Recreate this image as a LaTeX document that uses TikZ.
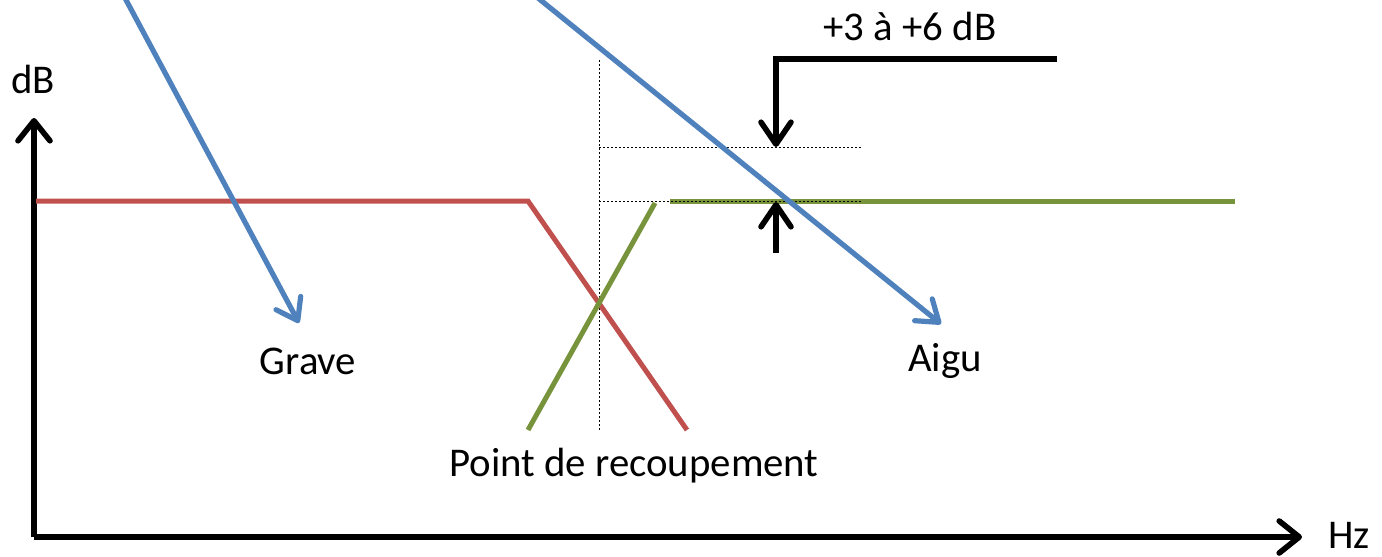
\documentclass[tikz,border=0pt]{standalone}
\usepackage{fontspec}
\setmainfont{Carlito}
\usetikzlibrary{arrows.meta}
\definecolor{grave}{HTML}{C0504D}
\definecolor{aigu}{HTML}{77933C}
\definecolor{fleche}{HTML}{4F81BD}
\begin{document}
\begin{tikzpicture}[x=0.5pt,y=-0.5pt,
    axe/.style={line width=2.8pt,-{Straight Barb[length=10pt,width=16pt,round]}},
    courbe/.style={line width=2.5pt},
    guide/.style={line width=0.4pt,dash pattern=on 1pt off 1pt},
    renvoi/.style={line width=2.6pt,fleche,-{Straight Barb[length=10pt,width=14pt,round]}},
    marque/.style={line width=2.8pt,-{Straight Barb[length=11pt,width=15pt,round]}},
    txt/.style={font=\fontsize{20.4}{24}\selectfont,inner sep=0pt}]
  \useasboundingbox (0,0) rectangle (1382,557);
  % axes
  \coordinate (o) at (34,537);
  \coordinate (ytop) at (34,118);
  \coordinate (xend) at (1302,537);
  \draw[axe] (o) -- (ytop);
  \draw[axe] (o) -- (xend);
  \node[txt] (db) at (33,79) {dB};
  \node[txt] (hz) at (1349,535) {Hz};
  % guides
  \coordinate (v1) at (599,60);
  \coordinate (v2) at (599,430);
  \coordinate (h1) at (599,147);
  \coordinate (h1e) at (863,147);
  \coordinate (h2) at (599,201);
  \coordinate (h2e) at (863,201);
  \draw[guide] (v1) -- (v2);
  \draw[guide] (h1) -- (h1e);
  % curves
  \coordinate (g0) at (36,201);
  \coordinate (g1) at (528,201);
  \coordinate (g2) at (687,430);
  \draw[courbe,grave] (g0) -- (g1) -- (g2);
  \coordinate (a0) at (528,430);
  \coordinate (a1) at (655,203);
  \coordinate (a2) at (670,201);
  \coordinate (a3) at (1235,201);
  \draw[courbe,aigu] (a0) -- (a1);
  \draw[courbe,aigu] (a2) -- (a3);
  \draw[guide] (h2) -- (h2e);
  % labels
  \node[txt] (grave) at (308,361) {Grave};
  \node[txt] (aigu) at (945,361) {Aigu};
  \node[txt] (point) at (634,466) {Point de recoupement};
  \node[txt] (ecart) at (910,26) {+3 à +6 dB};
  % pointers
  \coordinate (p0) at (125,-2);
  \coordinate (p1) at (299,323);
  \coordinate (q0) at (538,-2);
  \coordinate (q1) at (941,324);
  \draw[renvoi] (p0) -- (p1);
  \draw[renvoi] (q0) -- (q1);
  % gap marks
  \coordinate (m0) at (1057,59);
  \coordinate (m1) at (776,59);
  \coordinate (m2) at (776,147);
  \coordinate (n0) at (776,253);
  \coordinate (n1) at (776,202);
  \draw[marque] (m0) -- (m1) -- (m2);
  \draw[marque] (n0) -- (n1);
\end{tikzpicture}
\end{document}
